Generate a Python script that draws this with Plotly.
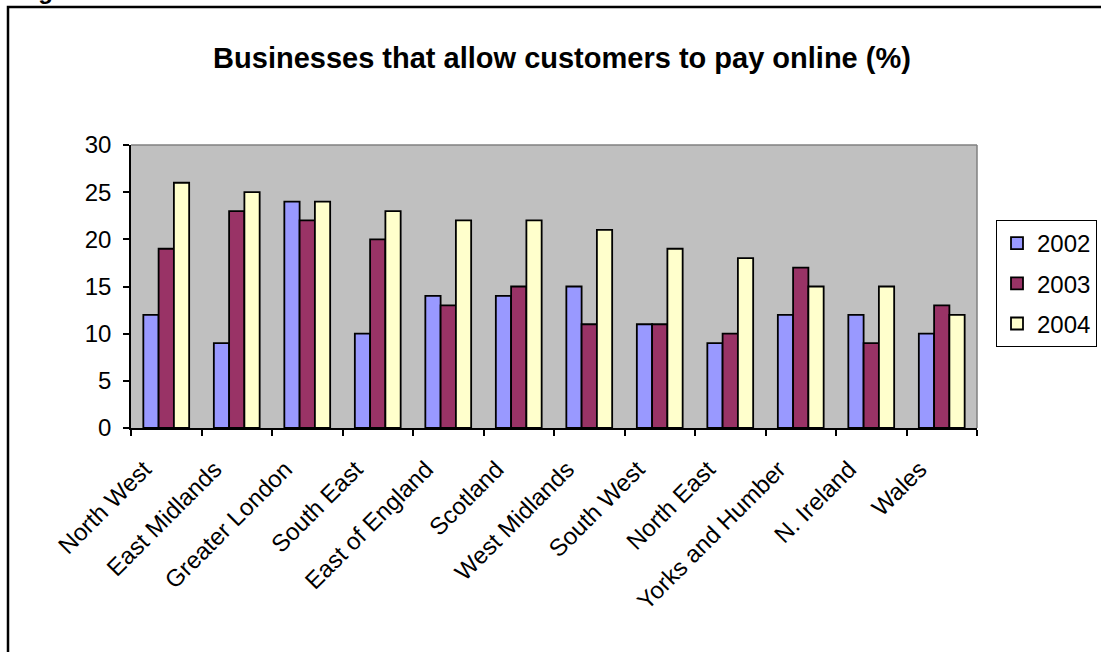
import plotly.graph_objects as go

# Regions and share of businesses offering online payment, by year
regions = ["North West", "East Midlands", "Greater London", "South East",
           "East of England", "Scotland", "West Midlands", "South West",
           "North East", "Yorks and Humber", "N. Ireland", "Wales"]
pct_2002 = [12, 9, 24, 10, 14, 14, 15, 11, 9, 12, 12, 10]
pct_2003 = [19, 23, 22, 20, 13, 15, 11, 11, 10, 17, 9, 13]
pct_2004 = [26, 25, 24, 23, 22, 22, 21, 19, 18, 15, 15, 12]
y_ticks = [0, 5, 10, 15, 20, 25, 30]

W, H = 1101, 652
L, R, T, B = 131, 977, 145, 428  # plot area in pixels

FONT = "Arial, 'Liberation Sans', sans-serif"


def px_x(p):
    return (p - L) / (R - L)


def px_y(p):
    return (B - p) / (B - T)


fig = go.Figure()
series = [("2002", pct_2002, "#9999FF"),
          ("2003", pct_2003, "#993366"),
          ("2004", pct_2004, "#FFFFCC")]
for name, vals, col in series:
    fig.add_trace(go.Bar(
        x=regions, y=vals, name=name, legendgroup=name,
        marker=dict(color=col, line=dict(color="black", width=1.8)),
    ))

fig.update_layout(
    width=W, height=H,
    margin=dict(l=L, r=W - R, t=T, b=H - B, pad=0, autoexpand=False),
    paper_bgcolor="white",
    plot_bgcolor="#C0C0C0",
    barmode="group",
    bargap=0.35,
    bargroupgap=0,
    font=dict(family=FONT, size=24, color="black"),
    title=dict(
        text="<b>Businesses that allow customers to pay online (%)</b>",
        font=dict(family=FONT, size=29, color="black"),
        x=px_x(562), xref="paper", xanchor="center",
        y=1 - 58 / H, yanchor="middle",
    ),
    legend=dict(
        x=px_x(996), y=px_y(220), xanchor="left", yanchor="top",
        bgcolor="white", bordercolor="black", borderwidth=1,
        font=dict(family=FONT, size=24, color="black"),
        tracegroupgap=6,
        itemwidth=30,
    ),
    showlegend=True,
)

fig.update_xaxes(
    type="category",
    tickangle=-45,
    showgrid=False,
    showline=True, linecolor="black", linewidth=1.5,
    ticks="outside", ticklen=6, tickcolor="black", tickwidth=1.5,
    tickson="boundaries",
    ticklabelstandoff=16,
    ticklabelshift=-22,
    tickfont=dict(family=FONT, size=24, color="black"),
    mirror=False,
    automargin=False,
)
fig.update_yaxes(
    range=[0, 30],
    tickvals=y_ticks,
    showgrid=False, zeroline=False,
    showline=True, linecolor="black", linewidth=1.5,
    ticks="outside", ticklen=6, tickcolor="black", tickwidth=1.5,
    ticklabelstandoff=7,
    tickfont=dict(family=FONT, size=24, color="black"),
    automargin=False,
)

# grey frame on the top and right edges of the plot area
fig.add_shape(type="line", xref="paper", yref="paper", x0=0, x1=1, y0=1, y1=1,
              line=dict(color="#808080", width=1.5))
fig.add_shape(type="line", xref="paper", yref="paper", x0=1, x1=1, y0=0, y1=1,
              line=dict(color="#808080", width=1.5))

# outer chart border
fig.add_shape(type="rect", xref="paper", yref="paper",
              x0=px_x(8), x1=px_x(W + 20), y0=px_y(7), y1=px_y(H + 20),
              line=dict(color="black", width=2.5), fillcolor="rgba(0,0,0,0)",
              layer="above")

# heading above the chart frame
fig.add_annotation(text="<b>Figure</b>", xref="paper", yref="paper",
                   x=px_x(15), y=px_y(6), xanchor="left", yanchor="bottom",
                   showarrow=False, font=dict(family=FONT, size=24, color="black"))

fig.write_html("out.html")
